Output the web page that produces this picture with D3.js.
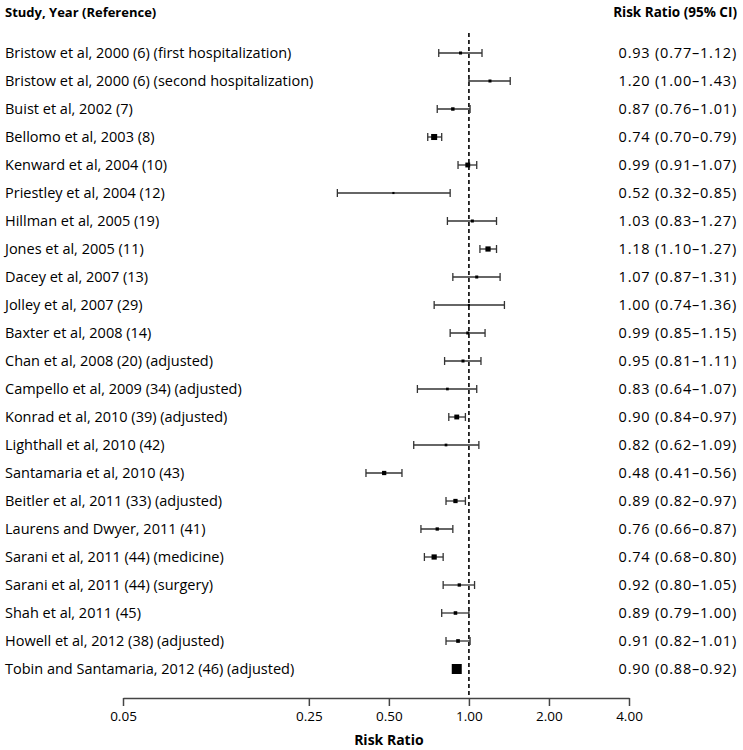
<!DOCTYPE html>
<html>
<head>
<meta charset="utf-8">
<script src="https://cdn.jsdelivr.net/npm/d3@7"></script>
<style>
  html, body { margin: 0; padding: 0; background: #fff; }
  text { font-family: "Open Sans", "Lato", sans-serif; fill: #000; }
</style>
</head>
<body>
<svg id="chart" width="743" height="750"></svg>
<script>
const studies = [
  "Bristow et al, 2000 (6) (first hospitalization)",
  "Bristow et al, 2000 (6) (second hospitalization)",
  "Buist et al, 2002 (7)",
  "Bellomo et al, 2003 (8)",
  "Kenward et al, 2004 (10)",
  "Priestley et al, 2004 (12)",
  "Hillman et al, 2005 (19)",
  "Jones et al, 2005 (11)",
  "Dacey et al, 2007 (13)",
  "Jolley et al, 2007 (29)",
  "Baxter et al, 2008 (14)",
  "Chan et al, 2008 (20) (adjusted)",
  "Campello et al, 2009 (34) (adjusted)",
  "Konrad et al, 2010 (39) (adjusted)",
  "Lighthall et al, 2010 (42)",
  "Santamaria et al, 2010 (43)",
  "Beitler et al, 2011 (33) (adjusted)",
  "Laurens and Dwyer, 2011 (41)",
  "Sarani et al, 2011 (44) (medicine)",
  "Sarani et al, 2011 (44) (surgery)",
  "Shah et al, 2011 (45)",
  "Howell et al, 2012 (38) (adjusted)",
  "Tobin and Santamaria, 2012 (46) (adjusted)"
];
const rr    = [0.93, 1.20, 0.87, 0.74, 0.99, 0.52, 1.03, 1.18, 1.07, 1.00, 0.99, 0.95, 0.83, 0.90, 0.82, 0.48, 0.89, 0.76, 0.74, 0.92, 0.89, 0.91, 0.90];
const lower = [0.77, 1.00, 0.76, 0.70, 0.91, 0.32, 0.83, 1.10, 0.87, 0.74, 0.85, 0.81, 0.64, 0.84, 0.62, 0.41, 0.82, 0.66, 0.68, 0.80, 0.79, 0.82, 0.88];
const upper = [1.12, 1.43, 1.01, 0.79, 1.07, 0.85, 1.27, 1.27, 1.31, 1.36, 1.15, 1.11, 1.07, 0.97, 1.09, 0.56, 0.97, 0.87, 0.80, 1.05, 1.00, 1.01, 0.92];
// relative study weights (marker area)
const weights = [1, 1, 1.3, 4, 2.6, 0.5, 1, 3, 1, 0.5, 1, 1, 0.8, 2.6, 0.8, 2, 2, 1.2, 3, 1.2, 1.4, 1.5, 11];
const tickValues = [0.05, 0.25, 0.50, 1.00, 2.00, 4.00];

const fmt = d3.format(".2f");
const svg = d3.select("#chart");

const x = d3.scaleLog().domain([0.05, 4]).range([123, 629]);
const y = d3.scaleBand().domain(studies).range([39, 683]).paddingInner(0).paddingOuter(0);
const size = d3.scaleSqrt().domain([0, d3.max(weights)]).range([0, 10]);

const rows = studies.map((s, i) => ({ s, rr: rr[i], lo: lower[i], hi: upper[i], w: weights[i] }));

// headers
svg.append("text").attr("x", 5).attr("y", 17)
  .style("font-weight", "bold").style("font-size", "13px")
  .text("Study, Year (Reference)");
svg.append("text").attr("x", 737).attr("y", 17).attr("text-anchor", "end")
  .style("font-weight", "bold").style("font-size", "13.5px")
  .text("Risk Ratio (95% CI)");

// reference line
svg.append("line")
  .attr("x1", x(1)).attr("x2", x(1))
  .attr("y1", 33).attr("y2", 698)
  .attr("stroke", "#000").attr("stroke-width", 1.6)
  .attr("stroke-dasharray", "4,3");

const g = svg.append("g");
const row = g.selectAll("g.row").data(rows).enter().append("g")
  .attr("class", "row")
  .attr("transform", d => `translate(0,${y(d.s) + y.bandwidth() / 2})`);

row.append("text").attr("x", 5).attr("dy", "0.35em")
  .style("font-size", "14.5px").style("font-weight", "500").text(d => d.s);

row.append("text").attr("x", 737).attr("dy", "0.35em").attr("text-anchor", "end")
  .style("font-size", "14.5px").style("font-weight", "500").style("letter-spacing", "0.8px")
  .text(d => `${fmt(d.rr)} (${fmt(d.lo)}\u2013${fmt(d.hi)})`);

row.append("line")
  .attr("x1", d => x(d.lo)).attr("x2", d => x(d.hi))
  .attr("stroke", "#333").attr("stroke-width", 1.3);
row.append("line")
  .attr("x1", d => x(d.lo)).attr("x2", d => x(d.lo))
  .attr("y1", -4).attr("y2", 4)
  .attr("stroke", "#333").attr("stroke-width", 1.3);
row.append("line")
  .attr("x1", d => x(d.hi)).attr("x2", d => x(d.hi))
  .attr("y1", -4).attr("y2", 4)
  .attr("stroke", "#333").attr("stroke-width", 1.3);
row.append("rect")
  .attr("x", d => x(d.rr) - size(d.w) / 2)
  .attr("y", d => -size(d.w) / 2)
  .attr("width", d => size(d.w))
  .attr("height", d => size(d.w))
  .attr("fill", "#000");

// axis
const axis = d3.axisBottom(x).tickValues(tickValues).tickFormat(fmt).tickSize(8).tickSizeOuter(0);
const ax = svg.append("g").attr("transform", "translate(0,698)").call(axis);
ax.select(".domain").attr("stroke", "#444").attr("stroke-width", 1.5);
ax.selectAll(".tick line").attr("stroke", "#444").attr("stroke-width", 1.5);
ax.selectAll(".tick text").attr("y", 13)
  .style("font-family", "'Open Sans', sans-serif").style("font-size", "13.5px").attr("fill", "#000");

svg.append("text").attr("x", x(0.5)).attr("y", 745).attr("text-anchor", "middle")
  .style("font-weight", "bold").style("font-size", "14px")
  .text("Risk Ratio");
</script>
</body>
</html>
